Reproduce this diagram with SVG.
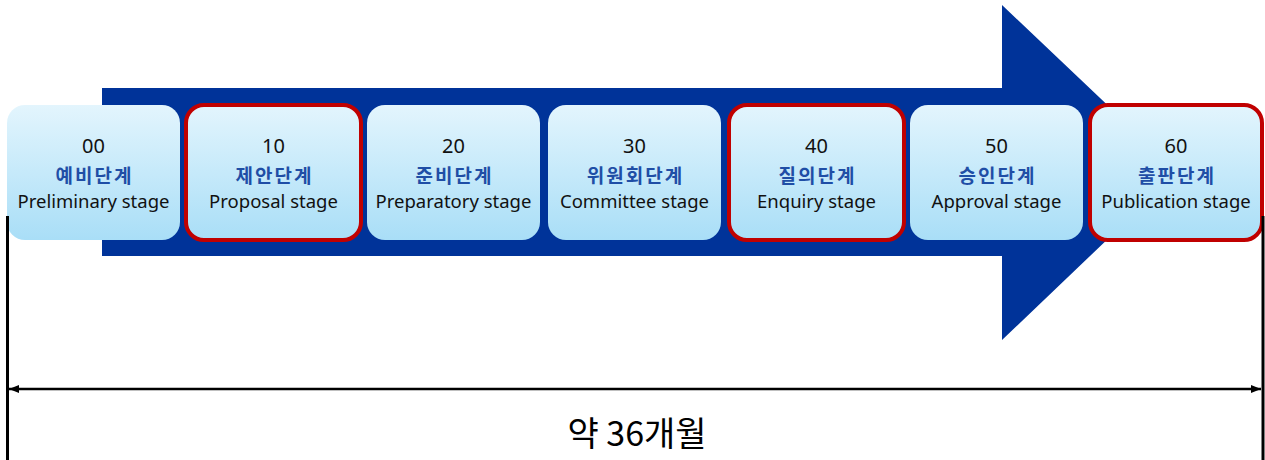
<svg xmlns="http://www.w3.org/2000/svg" width="1265" height="460" viewBox="0 0 1265 460">
<defs>
<linearGradient id="bg" x1="0" y1="0" x2="0" y2="1">
<stop offset="0" stop-color="#e3f5fd"/>
<stop offset="1" stop-color="#a9def7"/>
</linearGradient>
<marker id="ah" markerWidth="10" markerHeight="8" refX="10" refY="4" orient="auto-start-reverse" markerUnits="userSpaceOnUse">
<path d="M0,0 L10,4 L0,8 Z" fill="#000"/>
</marker>
<style>
.box{fill:url(#bg);}
.red{fill:url(#bg);stroke:#c00000;stroke-width:4;}
.num{font-family:"Noto Sans","Open Sans",sans-serif;font-size:20px;fill:#111;text-anchor:middle;}
.ko{font-family:"Noto Sans CJK KR",sans-serif;font-size:19px;font-weight:bold;fill:#1f4ea6;text-anchor:middle;letter-spacing:2px;}
.en{font-family:"Noto Sans","Open Sans",sans-serif;font-size:18.5px;fill:#111;text-anchor:middle;}
.ln{stroke:#000;stroke-width:3;fill:none;}
</style>
</defs>
<rect width="1265" height="460" fill="#fff"/>
<polygon id="bigarrow" points="102,88 1002,88 1002,5 1178,172 1002,340 1002,256 102,256" fill="#003399"/>
<g id="s00"><rect class="box" x="7" y="105" width="173" height="135" rx="18"/>
<text class="num" x="93.5" y="153">00</text><text class="ko" x="94.5" y="183">예비단계</text><text class="en" x="93.5" y="208">Preliminary stage</text></g>
<g id="s10"><rect class="red" x="186" y="105" width="175" height="135" rx="18"/>
<text class="num" x="273.5" y="153">10</text><text class="ko" x="274.5" y="183">제안단계</text><text class="en" x="273.5" y="208">Proposal stage</text></g>
<g id="s20"><rect class="box" x="367" y="105" width="173" height="135" rx="18"/>
<text class="num" x="453.5" y="153">20</text><text class="ko" x="454.5" y="183">준비단계</text><text class="en" x="453.5" y="208">Preparatory stage</text></g>
<g id="s30"><rect class="box" x="548" y="105" width="173" height="135" rx="18"/>
<text class="num" x="634.5" y="153">30</text><text class="ko" x="635.5" y="183">위원회단계</text><text class="en" x="634.5" y="208">Committee stage</text></g>
<g id="s40"><rect class="red" x="729" y="105" width="175" height="135" rx="18"/>
<text class="num" x="816.5" y="153">40</text><text class="ko" x="817.5" y="183">질의단계</text><text class="en" x="816.5" y="208">Enquiry stage</text></g>
<g id="s50"><rect class="box" x="910" y="105" width="173" height="135" rx="18"/>
<text class="num" x="996.5" y="153">50</text><text class="ko" x="997.5" y="183">승인단계</text><text class="en" x="996.5" y="208">Approval stage</text></g>
<g id="s60"><rect class="red" x="1090" y="105" width="172" height="135" rx="18"/>
<text class="num" x="1176" y="153">60</text><text class="ko" x="1177" y="183">출판단계</text><text class="en" x="1176" y="208">Publication stage</text></g>
<g id="connectors">
<line class="ln" x1="7.5" y1="216" x2="7.5" y2="460"/>
<line class="ln" x1="1263" y1="216" x2="1263" y2="460"/>
<line x1="9" y1="389" x2="1261" y2="389" stroke="#000" stroke-width="2.5" marker-start="url(#ah)" marker-end="url(#ah)"/>
</g>
<text x="637" y="446" font-family="Noto Sans CJK KR, sans-serif" font-size="34" text-anchor="middle" fill="#000">약 36개월</text>
</svg>
